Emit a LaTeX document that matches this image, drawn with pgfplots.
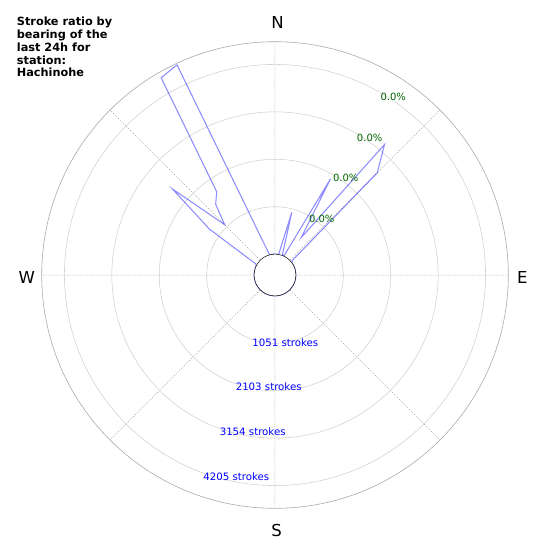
\documentclass[border=0pt]{standalone}
\usepackage{fontspec}
\setmainfont{DejaVu Sans}
\usepackage{pgfplots}
\usepackage{pgfplotstable}
\usepgfplotslibrary{polar}
\pgfplotsset{compat=1.18}
\definecolor{strokeblue}{RGB}{0,0,255}
\definecolor{pctgreen}{RGB}{0,100,0}
\definecolor{ringgray}{RGB}{208,208,208}
\definecolor{spokegray}{RGB}{170,170,170}

% strokes per 5 degree bearing bin (0 = north, clockwise)
\pgfplotstableread{
bearing strokes
0 0
5 0
10 0
15 975
20 20
25 0
30 2002
35 548
40 3314
45 2745
50 38
55 0
60 0
65 0
70 0
75 0
80 0
85 0
90 0
95 0
100 0
105 0
110 0
115 0
120 0
125 0
130 0
135 0
140 0
145 0
150 0
155 0
160 0
165 0
170 0
175 0
180 0
185 0
190 0
195 0
200 0
205 0
210 0
215 0
220 0
225 0
230 0
235 0
240 0
245 0
250 0
255 0
260 0
265 0
270 0
275 0
280 0
285 0
290 0
295 0
300 27
305 1310
310 2507
315 1115
320 1583
325 1791
330 4585
335 4678
340 370
345 0
350 0
355 0
360 0
}\ratiodata

\begin{document}
\begin{tikzpicture}
\useasboundingbox (0pt,0pt) rectangle (550pt,-550pt);
\begin{polaraxis}[
    at={(275pt,-275pt)}, anchor=center,
    scale only axis,
    width=466.6pt, height=466.6pt,
    xmin=0, xmax=360, ymin=0, ymax=5172,
    xtick={0,45,...,315},
    ytick={1514,2566,3617,4668},
    xticklabels={}, yticklabels={},
    major tick length=0pt,
    xmajorgrids, ymajorgrids,
    x grid style={spokegray, dash pattern=on 1.1pt off 1.3pt, line width=0.5pt},
    y grid style={ringgray, line width=0.55pt},
    x axis line style={spokegray, line width=0.6pt},
    y axis line style={draw=none},
    clip=false,
]
\addplot[draw=blue, draw opacity=0.45, line width=1.05pt, no markers]
    table[x expr={90-\thisrow{bearing}}, y expr={\thisrow{strokes}+463}] {\ratiodata};
% hole in the middle (r = 0 sits on this circle)
\draw[black, line width=0.5pt, fill=white] (axis cs:0,0) circle[radius=20.9pt];
\end{polaraxis}

% compass letters
\node[font=\fontsize{16.5}{18}\selectfont] at (277.6pt,-22pt) {N};
\node[font=\fontsize{16.5}{18}\selectfont] at (522.4pt,-277.5pt) {E};
\node[font=\fontsize{16.5}{18}\selectfont] at (276.7pt,-530.5pt) {S};
\node[font=\fontsize{16.5}{18}\selectfont] at (26.7pt,-277.5pt) {W};

% ring labels
\node[font=\fontsize{10.2}{12}\selectfont, text=strokeblue] at (285.3pt,-342.7pt) {1051 strokes};
\node[font=\fontsize{10.2}{12}\selectfont, text=strokeblue] at (268.7pt,-387pt) {2103 strokes};
\node[font=\fontsize{10.2}{12}\selectfont, text=strokeblue] at (252.7pt,-431.7pt) {3154 strokes};
\node[font=\fontsize{10.2}{12}\selectfont, text=strokeblue] at (236.3pt,-476.7pt) {4205 strokes};
\node[font=\fontsize{10}{12}\selectfont, text=pctgreen] at (321.8pt,-219.3pt) {0.0\%};
\node[font=\fontsize{10}{12}\selectfont, text=pctgreen] at (345.8pt,-177.7pt) {0.0\%};
\node[font=\fontsize{10}{12}\selectfont, text=pctgreen] at (369.7pt,-138.3pt) {0.0\%};
\node[font=\fontsize{10}{12}\selectfont, text=pctgreen] at (393.3pt,-97pt) {0.0\%};

% title
\node[font=\fontsize{11.3}{13}\selectfont\bfseries, anchor=base west, inner sep=0pt] at (16.7pt,-25.9pt) {Stroke ratio by};
\node[font=\fontsize{11.3}{13}\selectfont\bfseries, anchor=base west, inner sep=0pt] at (16.7pt,-38.65pt) {bearing of the};
\node[font=\fontsize{11.3}{13}\selectfont\bfseries, anchor=base west, inner sep=0pt] at (16.7pt,-51.4pt) {last 24h for};
\node[font=\fontsize{11.3}{13}\selectfont\bfseries, anchor=base west, inner sep=0pt] at (16.7pt,-64.15pt) {station:};
\node[font=\fontsize{11.3}{13}\selectfont\bfseries, anchor=base west, inner sep=0pt] at (16.7pt,-76.9pt) {Hachinohe};
\end{tikzpicture}
\end{document}
